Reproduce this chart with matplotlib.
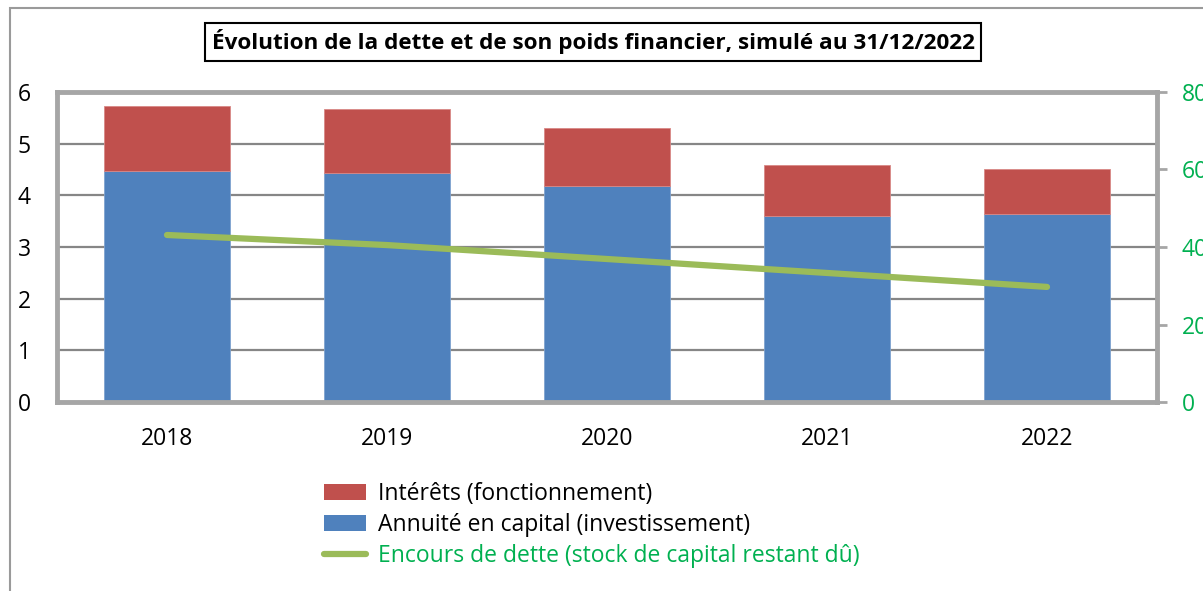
import matplotlib
matplotlib.use("Agg")
import matplotlib.pyplot as plt
from matplotlib.patches import Rectangle, Patch
from matplotlib.lines import Line2D
import numpy as np

years = ["2018", "2019", "2020", "2021", "2022"]
annuite_capital = [4.47, 4.43, 4.18, 3.60, 3.64]
interets = [1.26, 1.24, 1.12, 0.99, 0.87]
encours = [43.1, 40.5, 36.9, 33.3, 29.7]

left_ticks = [0, 1, 2, 3, 4, 5, 6]
right_ticks = [0, 20, 40, 60, 80]

title = "Évolution de la dette et de son poids financier, simulé au 31/12/2022"
lbl_int = "Intérêts (fonctionnement)"
lbl_cap = "Annuité en capital (investissement)"
lbl_enc = "Encours de dette (stock de capital restant dû)"

BLUE = "#4F81BD"
RED = "#C0504D"
LINEC = "#9BBB59"
GREEN = "#00B050"
SPINE = "#A6A6A6"
GRID = "#868686"

plt.rcParams["font.family"] = ["Open Sans", "DejaVu Sans"]

W, H = 1203, 591
fig = plt.figure(figsize=(W / 100, H / 100), dpi=100)

# outer chart border
fig.patches.append(Rectangle((10 / W, -0.1), 1.2, 1.1 - 8 / H, transform=fig.transFigure,
                             fill=False, edgecolor="#9A9A9A", linewidth=1.5))

ax = fig.add_axes([57 / W, (H - 402) / H, 1100 / W, 310 / H])
x = np.arange(len(years))
ax.bar(x, annuite_capital, width=0.57, color=BLUE, edgecolor="#7FA3CF", linewidth=0.6, zorder=2)
ax.bar(x, interets, width=0.57, bottom=annuite_capital, color=RED, edgecolor="#D88886", linewidth=0.6, zorder=2)
ax.set_xlim(-0.5, len(years) - 0.5)
ax.set_ylim(0, 6)
ax.set_yticks(left_ticks)
ax.set_xticks(x)
ax.set_xticklabels(years)
ax.tick_params(axis="x", length=0, labelsize=16.5, pad=18)
ax.tick_params(axis="y", length=0, labelsize=16.5, pad=19)
ax.yaxis.grid(True, color=GRID, linewidth=1.6)
ax.set_axisbelow(True)
for s in ["left", "bottom", "top"]:
    ax.spines[s].set_color(SPINE)
    ax.spines[s].set_linewidth(3.5)
ax.spines["right"].set_visible(False)

ax2 = ax.twinx()
ax2.plot(x, encours, color=LINEC, linewidth=4.5, solid_capstyle="round", zorder=3)
ax2.set_ylim(0, 80)
ax2.set_yticks(right_ticks)
ax2.tick_params(axis="y", colors=SPINE, length=7, width=2, labelsize=16.5, pad=11)
for t in ax2.get_yticklabels():
    t.set_color(GREEN)
for s in ["left", "bottom", "top"]:
    ax2.spines[s].set_visible(False)
ax2.spines["right"].set_color(SPINE)
ax2.spines["right"].set_linewidth(3.5)

fig.text(593 / W, 1 - 42 / H, title, ha="center", va="center", fontsize=16.2, fontweight="bold",
         bbox=dict(boxstyle="square,pad=0.3", facecolor="white", edgecolor="black", linewidth=1.5))

handles = [Patch(facecolor=RED, edgecolor="none"),
           Patch(facecolor=BLUE, edgecolor="none"),
           Line2D([0], [0], color=LINEC, linewidth=4.5, solid_capstyle="round")]
leg = fig.legend(handles, [lbl_int, lbl_cap, lbl_enc], loc="upper left",
                 bbox_to_anchor=(324 / W, 1 - 482 / H), frameon=False, fontsize=16.5,
                 handlelength=1.85, handleheight=0.7, handletextpad=0.5, labelspacing=0.3,
                 borderpad=0, borderaxespad=0)
leg.get_texts()[2].set_color(GREEN)

fig.savefig("out.png", dpi=100)
